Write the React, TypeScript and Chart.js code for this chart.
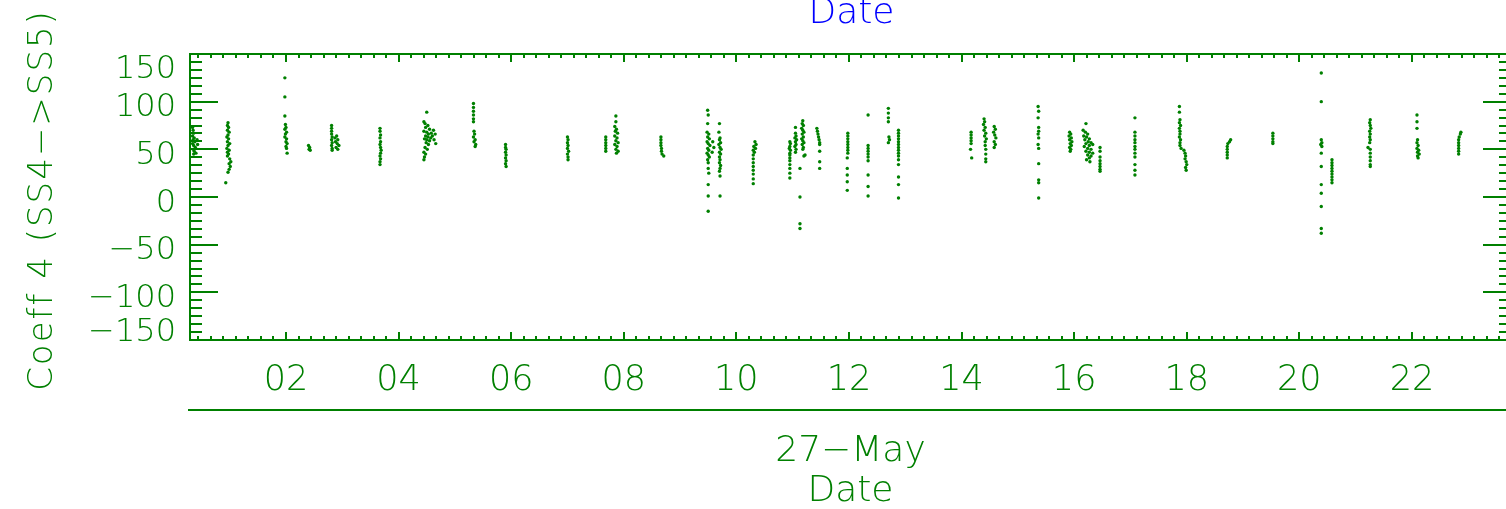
import { useEffect, useRef } from "react";
import { Chart, registerables } from "chart.js";

Chart.register(...registerables);

const GREEN = "rgb(0,128,0)";
const BLUE = "rgb(0,0,255)";
const FONT = "'DejaVu Sans', 'Liberation Sans', sans-serif";

// axis ranges (hours of 27-May, coefficient value)
const X_MIN = 0.2948;
const X_MAX = 23.76;
const Y_MIN = -150;
const Y_MAX = 150;

const xTickHours = [2, 4, 6, 8, 10, 12, 14, 16, 18, 20, 22];
const xTickLabels = ["02", "04", "06", "08", "10", "12", "14", "16", "18", "20", "22"];
const yTickValues = [150, 100, 50, 0, -50, -100, -150];
const yTickLabels = ["150", "100", "50", "0", "\u221250", "\u2212100", "\u2212150"];
const X_MINOR_DIV = 9;
const Y_MINOR_DIV = 6;

const topTitle = "Date";
const dayLabel = "27\u2212May";
const xTitle = "Date";
const yTitle = "Coeff 4 (SS4\u2212>SS5)";

// [hour, value] pairs per pass
const pass00 = [[0.34,73],[0.35,70],[0.36,67],[0.34,64],[0.37,62],[0.35,60],[0.38,58],[0.34,56],[0.36,54],[0.39,52],[0.35,50],[0.37,48],[0.40,46],[0.36,45],[0.42,60],[0.43,55]];
const pass01 = [[0.97,78],[0.96,75],[0.98,73],[0.96,70],[0.99,68],[0.97,65],[0.95,63],[0.98,61],[0.96,58],[1.00,56],[0.97,54],[0.95,51],[0.99,49],[0.96,47],[0.98,45],[0.96,43],[1.00,40],[1.02,37],[0.99,35],[1.01,32],[0.99,29],[0.97,26],[0.93,15]];
const pass02 = [[1.98,125],[1.98,105],[1.98,85],[1.99,76],[2.00,73],[1.98,71],[2.01,68],[1.99,66],[1.98,63],[2.01,61],[2.00,58],[2.02,56],[2.00,53],[2.01,51],[2.02,46]];
const pass03 = [[2.40,54],[2.42,52],[2.41,50],[2.43,49]];
const pass04 = [[2.81,75],[2.81,72],[2.81,69],[2.81,66],[2.82,63],[2.81,60],[2.82,57],[2.81,54],[2.82,51],[2.82,49],[2.87,62],[2.90,64],[2.92,60],[2.88,58],[2.91,56],[2.94,54],[2.89,52],[2.92,50]];
const pass05 = [[3.67,72],[3.67,69],[3.68,65],[3.67,62],[3.68,58],[3.67,55],[3.68,52],[3.69,49],[3.68,46],[3.67,43],[3.68,40],[3.67,37],[3.67,34]];
const pass06 = [[4.50,89],[4.45,79],[4.47,77],[4.52,75],[4.48,73],[4.55,71],[4.45,69],[4.50,68],[4.53,66],[4.58,67],[4.48,64],[4.52,63],[4.57,62],[4.60,64],[4.46,61],[4.50,60],[4.55,59],[4.49,57],[4.53,55],[4.47,52],[4.51,50],[4.45,47],[4.48,45],[4.46,42],[4.45,39],[4.62,70],[4.65,66],[4.63,60],[4.66,56]];
const pass07 = [[5.33,98],[5.33,94],[5.33,90],[5.33,86],[5.33,82],[5.33,79],[5.34,69],[5.35,66],[5.33,63],[5.36,60],[5.34,58],[5.37,55],[5.36,53]];
const pass08 = [[5.90,55],[5.90,52],[5.91,50],[5.90,47],[5.91,44],[5.90,41],[5.91,38],[5.90,35],[5.91,32]];
const pass09 = [[7.00,63],[7.01,60],[7.00,57],[7.01,54],[7.00,51],[7.02,48],[7.00,45],[7.01,42],[7.01,39]];
const pass10 = [[7.68,63],[7.68,60],[7.68,57],[7.68,54],[7.68,51],[7.68,48],[7.86,85],[7.86,79],[7.84,74],[7.87,71],[7.85,69],[7.89,67],[7.84,64],[7.88,62],[7.86,59],[7.90,57],[7.84,55],[7.88,53],[7.86,50],[7.90,48],[7.87,46]];
const pass11 = [[8.66,63],[8.66,60],[8.66,57],[8.66,54],[8.67,51],[8.67,48],[8.68,45],[8.71,43]];
const pass12 = [[9.49,91],[9.50,86],[9.49,77],[9.48,68],[9.51,66],[9.49,63],[9.52,61],[9.48,58],[9.50,56],[9.53,54],[9.49,51],[9.51,49],[9.48,46],[9.50,44],[9.52,42],[9.49,39],[9.50,36],[9.50,30],[9.51,25],[9.50,13],[9.50,1],[9.50,-15],[9.70,77],[9.69,68],[9.71,62],[9.70,60],[9.72,57],[9.69,55],[9.71,52],[9.73,50],[9.70,47],[9.72,45],[9.70,42],[9.71,39],[9.70,36],[9.72,33],[9.71,30],[9.70,27],[9.71,22],[9.71,1],[9.58,58],[9.60,52],[9.57,47]];
const pass13 = [[10.33,58],[10.35,55],[10.31,53],[10.34,51],[10.30,49],[10.32,47],[10.30,44],[10.30,40],[10.30,36],[10.30,32],[10.30,28],[10.30,24],[10.30,19],[10.30,14]];
const pass14 = [[10.95,58],[10.96,56],[10.95,53],[10.94,51],[10.96,49],[10.95,46],[10.95,44],[10.95,41],[10.95,38],[10.95,34],[10.95,30],[10.95,25],[10.95,20],[11.05,73],[11.05,67],[11.06,64],[11.04,62],[11.07,60],[11.05,58],[11.06,55],[11.04,53],[11.06,50],[11.05,47],[11.18,80],[11.17,77],[11.19,75],[11.16,72],[11.18,70],[11.20,68],[11.17,66],[11.19,63],[11.16,61],[11.18,59],[11.20,57],[11.17,55],[11.19,52],[11.18,50],[11.22,44],[11.20,43],[11.13,30],[11.13,0],[11.13,-28],[11.13,-33]];
const pass15 = [[11.43,72],[11.44,69],[11.45,66],[11.46,63],[11.47,60],[11.48,57],[11.48,55],[11.48,48],[11.48,37],[11.48,30]];
const pass16 = [[11.98,67],[11.98,64],[11.98,61],[11.98,58],[11.98,55],[11.98,52],[11.98,49],[11.98,46],[11.97,41],[11.97,30],[11.97,23],[11.97,16],[11.97,7]];
const pass17 = [[12.34,86],[12.34,54],[12.34,51],[12.34,48],[12.34,45],[12.34,42],[12.34,38],[12.34,23],[12.34,11],[12.34,1]];
const pass18 = [[12.70,93],[12.70,88],[12.70,83],[12.70,79],[12.71,63],[12.72,60],[12.70,57],[12.88,70],[12.88,67],[12.88,64],[12.88,61],[12.88,58],[12.88,55],[12.88,52],[12.88,49],[12.88,46],[12.88,43],[12.88,39],[12.88,34],[12.88,21],[12.88,13],[12.88,-1]];
const pass19 = [[14.17,68],[14.17,65],[14.17,62],[14.17,59],[14.17,56],[14.16,50],[14.18,41],[14.40,82],[14.41,79],[14.39,76],[14.42,73],[14.40,70],[14.43,67],[14.41,64],[14.44,61],[14.42,58],[14.42,54],[14.43,50],[14.43,45],[14.43,40],[14.43,37],[14.58,74],[14.60,71],[14.57,68],[14.59,65],[14.61,62],[14.58,58],[14.60,55],[14.58,52]];
const pass20 = [[15.36,95],[15.37,90],[15.36,83],[15.37,73],[15.37,69],[15.36,66],[15.37,62],[15.36,55],[15.37,51],[15.37,35],[15.37,18],[15.37,15],[15.37,-1]];
const pass21 = [[15.92,68],[15.94,66],[15.91,64],[15.95,62],[15.92,60],[15.96,58],[15.93,56],[15.95,54],[15.92,52],[15.94,50],[15.93,48],[16.21,77],[16.16,70],[16.20,68],[16.24,66],[16.17,64],[16.22,63],[16.27,61],[16.19,60],[16.25,58],[16.30,57],[16.21,56],[16.27,54],[16.33,55],[16.18,53],[16.24,51],[16.30,50],[16.21,48],[16.27,47],[16.33,46],[16.24,44],[16.30,43],[16.27,41],[16.22,39],[16.28,37],[16.46,52],[16.46,48],[16.46,42],[16.46,38],[16.46,35],[16.46,32],[16.46,29],[16.46,27]];
const pass22 = [[17.08,83],[17.08,68],[17.08,64],[17.08,60],[17.08,57],[17.08,53],[17.08,50],[17.08,46],[17.08,42],[17.08,34],[17.08,28],[17.08,23]];
const pass23 = [[17.87,95],[17.87,89],[17.88,81],[17.87,78],[17.89,75],[17.87,72],[17.88,69],[17.88,66],[17.87,63],[17.89,60],[17.88,57],[17.88,54],[17.90,51],[17.95,49],[17.97,46],[17.98,43],[17.97,40],[17.99,37],[18.00,34],[17.98,31],[17.99,28]];
const pass24 = [[18.78,60],[18.76,58],[18.73,56],[18.72,53],[18.72,50],[18.72,47],[18.72,44],[18.72,41]];
const pass25 = [[19.53,67],[19.53,64],[19.53,61],[19.53,58],[19.53,56]];
const pass26 = [[20.39,130],[20.39,100],[20.39,60],[20.40,57],[20.38,55],[20.40,53],[20.39,46],[20.39,32],[20.39,13],[20.39,4],[20.39,-10],[20.39,-33],[20.39,-38],[20.58,39],[20.58,36],[20.58,33],[20.58,30],[20.58,27],[20.58,24],[20.58,21],[20.58,18],[20.58,15]];
const pass27 = [[21.26,81],[21.25,78],[21.26,75],[21.27,72],[21.25,69],[21.26,66],[21.25,63],[21.26,60],[21.25,57],[21.22,52],[21.26,50],[21.26,46],[21.26,42],[21.26,38],[21.26,34],[21.26,32]];
const pass28 = [[22.09,86],[22.09,79],[22.09,72],[22.10,60],[22.09,57],[22.11,54],[22.09,51],[22.12,49],[22.10,47],[22.13,45],[22.10,43],[22.11,41]];
const pass29 = [[22.87,68],[22.86,66],[22.84,63],[22.83,60],[22.83,57],[22.83,54],[22.83,51],[22.83,48],[22.83,45]];

const passes = [pass00, pass01, pass02, pass03, pass04, pass05, pass06, pass07, pass08, pass09,
  pass10, pass11, pass12, pass13, pass14, pass15, pass16, pass17, pass18, pass19,
  pass20, pass21, pass22, pass23, pass24, pass25, pass26, pass27, pass28, pass29];

const CANVAS_W = 1520;
const CANVAS_H = 509;

const idlAxes = {
  id: "idlAxes",
  afterDatasetsDraw(chart: any) {
    const { ctx, chartArea: a, scales } = chart;
    const xs = scales.x;
    const ys = scales.y;
    ctx.save();
    ctx.strokeStyle = GREEN;
    ctx.fillStyle = GREEN;
    ctx.lineWidth = 2;
    ctx.strokeRect(a.left, a.top, a.right - a.left, a.bottom - a.top);

    ctx.beginPath();
    const xMajor = xTickHours[1] - xTickHours[0];
    const xStep = xMajor / X_MINOR_DIV;
    for (let k = Math.ceil(X_MIN / xStep); k * xStep <= X_MAX; k++) {
      const px = Math.round(xs.getPixelForValue(k * xStep));
      const len = k % X_MINOR_DIV === 0 ? 8 : 4;
      ctx.moveTo(px, a.bottom);
      ctx.lineTo(px, a.bottom - len);
      ctx.moveTo(px, a.top);
      ctx.lineTo(px, a.top + len);
    }
    const yMajor = yTickValues[0] - yTickValues[1];
    const yStep = yMajor / Y_MINOR_DIV;
    for (let k = Math.ceil(Y_MIN / yStep - 1e-6); k * yStep <= Y_MAX + 1e-6; k++) {
      const py = Math.round(ys.getPixelForValue(k * yStep));
      const len = k % Y_MINOR_DIV === 0 ? 28 : 12;
      ctx.moveTo(a.left, py);
      ctx.lineTo(a.left + len, py);
      ctx.moveTo(a.right, py);
      ctx.lineTo(a.right - len, py);
    }
    ctx.stroke();

    // y tick labels
    ctx.font = `200 32px ${FONT}`;
    ctx.textAlign = "right";
    ctx.textBaseline = "alphabetic";
    const cap = 23.3;
    yTickValues.forEach((v, i) => {
      let c = ys.getPixelForValue(v) + 3;
      c = Math.max(a.top + cap / 2 + 1, Math.min(a.bottom + 1 - cap / 2, c));
      ctx.fillText(yTickLabels[i], a.left - 14, c + cap / 2);
    });

    // x tick labels
    ctx.font = `200 35px ${FONT}`;
    ctx.textAlign = "center";
    xTickHours.forEach((h, i) => {
      ctx.fillText(xTickLabels[i], xs.getPixelForValue(h), 390);
    });

    // lower axis line and labels
    ctx.fillRect(a.left - 2, 409, CANVAS_W, 2);
    const cx = (a.left + a.right) / 2;
    ctx.font = `200 36px ${FONT}`;
    ctx.fillText(dayLabel, cx, 461);
    ctx.fillText(xTitle, cx, 501);

    ctx.fillStyle = BLUE;
    ctx.fillText(topTitle, cx + 1, 23);

    // y title
    ctx.fillStyle = GREEN;
    ctx.save();
    ctx.translate(52, (a.top + a.bottom) / 2 + 3);
    ctx.rotate(-Math.PI / 2);
    ctx.font = `200 34px ${FONT}`;
    (ctx as any).letterSpacing = "2px";
    ctx.fillText(yTitle, 0, 0);
    ctx.restore();
    ctx.restore();
  },
};

export default function App() {
  const ref = useRef<HTMLCanvasElement>(null);
  useEffect(() => {
    document.body.style.margin = "0";
    const points = passes.flat().map(([x, y]) => ({ x, y }));
    const chart = new Chart(ref.current as HTMLCanvasElement, {
      type: "scatter",
      data: {
        datasets: [
          {
            data: points,
            pointRadius: 1.7,
            pointHoverRadius: 1.7,
            pointBackgroundColor: GREEN,
            pointBorderWidth: 0,
            showLine: false,
          },
        ],
      },
      options: {
        responsive: false,
        animation: false,
        events: [],
        layout: { padding: { left: 190, top: 54, right: CANVAS_W - 1511, bottom: CANVAS_H - 340 } },
        scales: {
          x: { type: "linear", min: X_MIN, max: X_MAX, display: false },
          y: { type: "linear", min: Y_MIN, max: Y_MAX, display: false },
        },
        plugins: { legend: { display: false }, tooltip: { enabled: false }, title: { display: false } },
      },
      plugins: [idlAxes],
    });
    return () => chart.destroy();
  }, []);
  return (
    <div style={{ width: 1506, height: 509, overflow: "hidden", position: "relative", background: "#fff" }}>
      <canvas ref={ref} width={CANVAS_W} height={CANVAS_H} style={{ display: "block" }} />
    </div>
  );
}
